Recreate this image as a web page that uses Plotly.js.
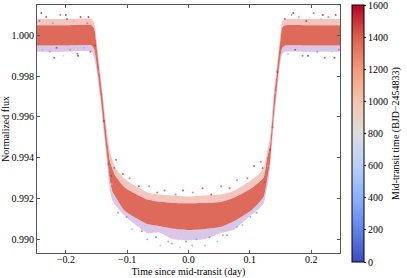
<!DOCTYPE html>
<html><head><meta charset="utf-8">
<script src="https://cdn.plot.ly/plotly-3.0.1.min.js"></script>
<style>html,body{margin:0;padding:0;background:#fff}#c{width:407px;height:278px}</style>
</head><body><div id="c"></div>
<script>
// Envelope of the dense band of points
const envT = [-0.247,-0.200,-0.158,-0.1535,-0.1485,-0.1436,-0.1400,-0.1361,-0.1320,-0.1282,-0.1240,-0.1190,-0.1050,-0.0860,-0.0670,-0.0486,-0.0250,0.0000,0.0250,0.0520,0.0750,0.1025,0.1150,0.1228,0.1280,0.1330,0.1398,0.1440,0.1489,0.1530,0.1580,0.2000,0.2470];
const outerHi = [1.0008,1.0008,1.0008,1.0006,0.9994,0.9981,0.9972,0.9961,0.9951,0.9943,0.9939,0.9935,0.9930,0.9926,0.9923,0.9922,0.99215,0.9921,0.99215,0.9922,0.9924,0.9929,0.9932,0.9935,0.9943,0.9950,0.9974,0.9985,0.9998,1.0007,1.0008,1.0008,1.0008];
const coreHi = [1.0005,1.0005,1.0005,1.0003,0.9991,0.99785,0.99688,0.99574,0.99470,0.99385,0.99345,0.99310,0.99257,0.99222,0.99195,0.99185,0.99178,0.99177,0.99178,0.99183,0.99205,0.99250,0.99280,0.99305,0.99395,0.99460,0.99705,0.99818,0.99950,1.0004,1.0005,1.0005,1.0005];
const coreLo = [0.9995,0.9995,0.9995,0.9993,0.9983,0.99709,0.99612,0.99498,0.99390,0.99290,0.99235,0.99208,0.99143,0.99105,0.99075,0.99065,0.99052,0.99046,0.99050,0.99060,0.99090,0.99143,0.99180,0.99210,0.99290,0.99382,0.99629,0.99742,0.99876,0.9994,0.9995,0.9995,0.9995];
const outerLo = [0.9992,0.9992,0.9992,0.9989,0.9980,0.9968,0.9958,0.9947,0.9935,0.9924,0.9919,0.99167,0.99118,0.9907,0.9903,0.99035,0.9900,0.98995,0.9900,0.9903,0.9905,0.9912,0.9915,0.9918,0.9925,0.9935,0.9959,0.9971,0.9985,0.9991,0.9992,0.9992,0.9992];

// Individual scattered points: time, flux, mid-transit time
const ptT = [-0.243,-0.238,-0.232,-0.226,-0.221,-0.215,-0.209,-0.204,-0.198,-0.193,-0.187,-0.181,-0.176,-0.170,-0.165,-0.160,-0.240,-0.219,-0.200,-0.180,-0.163,
 0.157,0.162,0.168,0.174,0.180,0.186,0.192,0.198,0.204,0.210,0.216,0.222,0.228,0.234,0.240,0.245,0.171,0.195,0.219,0.238,
 -0.115,-0.101,-0.092,-0.076,-0.067,-0.053,-0.046,-0.033,-0.027,-0.014,-0.004,0.006,0.013,0.027,0.034,0.047,0.056,0.063,0.079,0.088,0.101,0.111,
 -0.118,-0.107,-0.096,-0.081,-0.064,-0.051,-0.039,-0.021,-0.009,0.007,0.023,0.037,0.053,0.067,0.079,0.096,0.107,0.118,
 -0.152,-0.147,-0.142,-0.138,-0.134,-0.130,-0.126,0.124,0.129,0.133,0.137,0.141,0.145,0.150,
 -0.121,-0.125,0.121];
const ptF = [1.0007,0.9993,1.0009,0.9992,1.0006,0.9994,1.0010,0.9990,1.0008,0.9993,1.0007,0.9991,1.0009,0.9994,1.0006,0.9992,1.0011,0.9989,1.0010,0.9990,1.0009,
 1.0008,0.9991,1.0010,0.9993,1.0009,0.9990,1.0007,0.9994,1.0011,0.9992,1.0008,0.9989,1.0009,0.9992,1.0010,0.9993,1.0011,0.9990,1.0010,0.9989,
 0.9913,0.9911,0.9905,0.9904,0.9900,0.9901,0.9897,0.9899,0.9898,0.9896,0.9899,0.9897,0.9900,0.9897,0.9901,0.9899,0.9902,0.9902,0.9906,0.9907,0.9911,0.9913,
 0.9939,0.9932,0.9930,0.9926,0.9926,0.9923,0.9924,0.9922,0.9924,0.9923,0.9925,0.9922,0.9926,0.9925,0.9929,0.9930,0.9936,0.9938,
 0.9995,0.9982,0.9971,0.9958,0.9949,0.9937,0.9931,0.9928,0.9936,0.9944,0.9955,0.9972,0.9982,0.9994,
 0.9935,0.9927,0.9935];
const ptEpoch = [1450,420,1500,1380,300,1520,1420,650,1480,1350,520,1450,1560,380,1400,1500,1580,1560,1590,1570,1590,
 1480,450,1390,1510,350,1440,1560,700,1470,1360,480,1500,1420,560,1530,1400,1590,1570,1580,1590,
 300,250,400,200,350,150,450,300,250,500,200,350,300,400,250,450,300,200,350,400,300,250,
 1450,1500,1400,1520,1380,1460,1500,1420,1550,1400,1480,1520,1440,1500,1380,1460,1520,1400,
 1500,450,1400,1550,350,1450,1500,1480,400,1520,1450,600,1500,1420,
 1450,500,1500];

const cbTicks = [0,200,400,600,800,1000,1200,1400,1600];

const coolwarm = [[0,'#3b4cc0'],[0.125,'#6282ea'],[0.25,'#8db0fe'],[0.375,'#b8d0f9'],[0.5,'#dddddd'],[0.625,'#f5c4ad'],[0.75,'#f49a7b'],[0.875,'#de604d'],[1,'#b40426']];

const font = {family:'Liberation Serif, Times New Roman, serif', size:10, color:'#000'};
const band = (y, fill, color) => ({x:envT, y:y, type:'scatter', mode:'lines', line:{width:0, color:color, shape:'spline', smoothing:0.5}, fill:fill, fillcolor:color, hoverinfo:'skip', showlegend:false});

const traces = [
  band(outerLo, 'none', 'rgba(0,0,0,0)'),
  band(coreLo, 'tonexty', 'rgba(198,168,218,0.65)'),
  band(coreHi, 'tonexty', 'rgb(222,106,92)'),
  band(outerHi, 'tonexty', 'rgba(233,152,140,0.55)'),
  {x:ptT, y:ptF, type:'scatter', mode:'markers', showlegend:false,
   marker:{size:2, opacity:0.75, color:ptEpoch, colorscale:coolwarm, cmin:0, cmax:1600, showscale:true,
     colorbar:{x:1.0387, xanchor:'left', xpad:0, y:1, yanchor:'top', ypad:0, len:257, lenmode:'pixels', thickness:12,
       outlinecolor:'#000', outlinewidth:1, tickvals:cbTicks, ticktext:cbTicks.map(String), ticks:'outside', ticklen:2, tickcolor:'#000', tickfont:font,
       ticklabeloverflow:'allow',
       title:{text:'Mid-transit time (BJD\u22122454833)', side:'right', font:font}}}}
];

const axis = {showline:true, linecolor:'#555', linewidth:1, mirror:'ticks', ticks:'inside', ticklen:3, tickcolor:'#555', showgrid:false, zeroline:false, tickfont:font};
const layout = {
  width:407, height:278, margin:{l:37, r:60, t:5, b:25}, paper_bgcolor:'#fff', plot_bgcolor:'#fff', font:font,
  xaxis:Object.assign({}, axis, {range:[-0.247,0.247], tick0:0, dtick:0.1, tickformat:'.1f', ticklabelstandoff:-3, title:{text:'Time since mid-transit (day)', font:font, standoff:4}}),
  yaxis:Object.assign({}, axis, {range:[0.98933,1.00149], tick0:0.990, dtick:0.002, tickformat:'.3f', title:{text:'Normalized flux', font:font, standoff:4}})
};
Plotly.newPlot('c', traces, layout, {displayModeBar:false, staticPlot:true});
</script></body></html>
